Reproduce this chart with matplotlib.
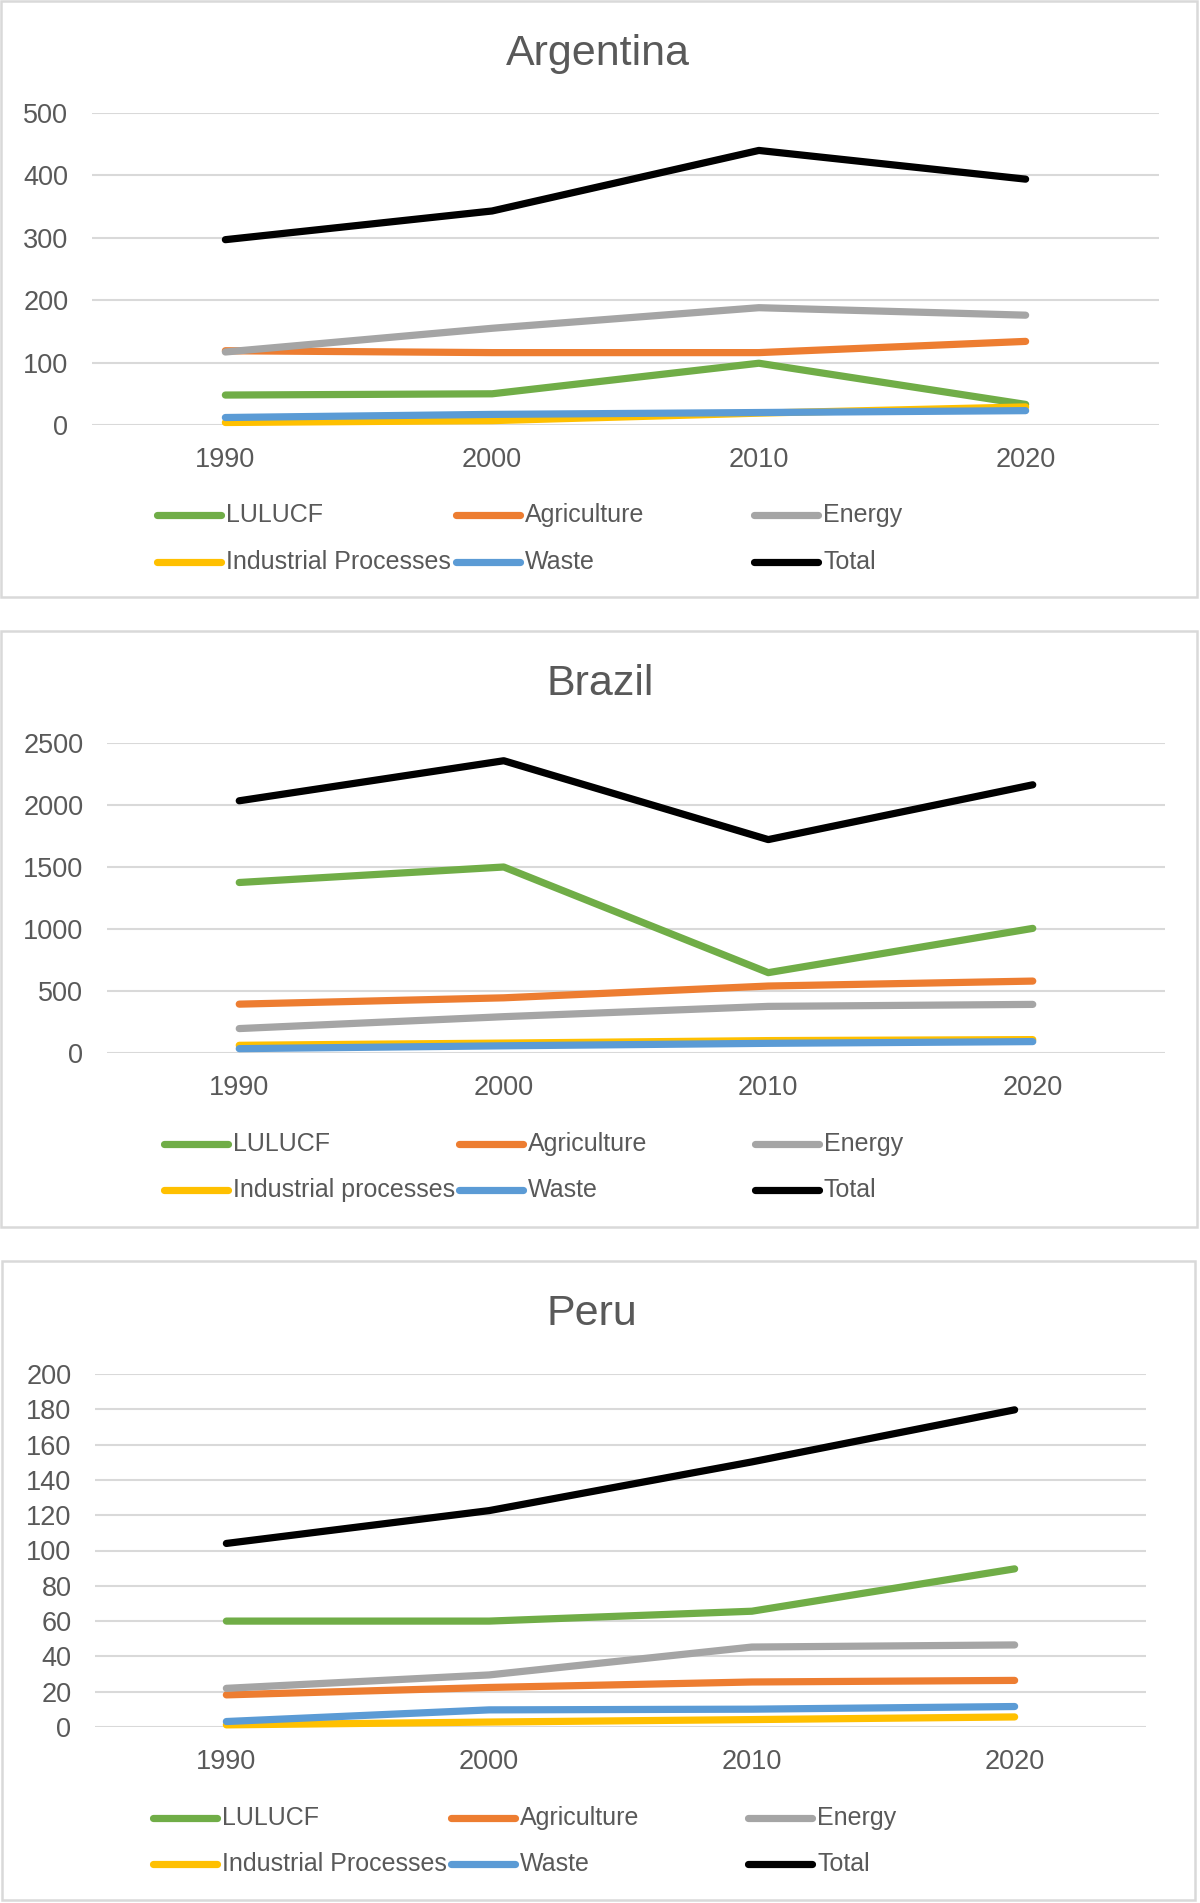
import matplotlib
matplotlib.use("Agg")
from matplotlib import pyplot as plt
from matplotlib.lines import Line2D
from matplotlib.patches import Rectangle

plt.rcParams['font.family'] = ['Liberation Sans', 'DejaVu Sans']

# Data
years = ["1990", "2000", "2010", "2020"]

arg_lulucf = [48, 50, 99, 33]
arg_agri = [119, 116, 116, 134]
arg_energy = [117, 155, 188, 176]
arg_ind = [4, 7, 19, 29]
arg_waste = [12, 17, 20, 23]
arg_total = [297, 343, 440, 394]

bra_lulucf = [1375, 1500, 648, 1005]
bra_agri = [394, 445, 540, 580]
bra_energy = [197, 293, 376, 392]
bra_ind = [62, 80, 100, 108]
bra_waste = [35, 58, 78, 92]
bra_total = [2034, 2357, 1721, 2163]

per_lulucf = [60, 60, 65.6, 89.6]
per_agri = [18.2, 22.4, 25.5, 26.4]
per_energy = [21.9, 29.5, 45.3, 46.5]
per_ind = [1.2, 2.8, 4.2, 5.7]
per_waste = [3.1, 9.7, 10.1, 11.6]
per_total = [104, 122.6, 150.2, 179.7]

colors = ['#70AD47', '#ED7D31', '#A5A5A5', '#FFC000', '#5B9BD5', '#000000']
text_col = '#595959'
grid_col = '#D9D9D9'

W, H = 1200, 1903
fig = plt.figure(figsize=(W / 100, H / 100), dpi=100)


def frac_rect(l, t, r, b):
    return [l / W, 1 - b / H, (r - l) / W, (b - t) / H]


def fx(x):
    return x / W


def fy(y):
    return 1 - y / H


panels = [
    dict(title="Argentina", title_xy=(598, 65), box=(1, 1, 1197, 597),
         axes=(92, 113, 1159, 425), ymax=500, ystep=100,
         labels=["LULUCF", "Agriculture", "Energy", "Industrial Processes", "Waste", "Total"],
         series=[arg_lulucf, arg_agri, arg_energy, arg_ind, arg_waste, arg_total],
         leg_x=(157, 456, 754), leg_y=(515, 562)),
    dict(title="Brazil", title_xy=(600, 695), box=(1, 631, 1197, 1227),
         axes=(107, 743, 1165, 1053), ymax=2500, ystep=500,
         labels=["LULUCF", "Agriculture", "Energy", "Industrial processes", "Waste", "Total"],
         series=[bra_lulucf, bra_agri, bra_energy, bra_ind, bra_waste, bra_total],
         leg_x=(164, 459, 755), leg_y=(1144, 1190)),
    dict(title="Peru", title_xy=(592, 1325), box=(2, 1261, 1195, 1900),
         axes=(95, 1374, 1146, 1727), ymax=200, ystep=20,
         labels=["LULUCF", "Agriculture", "Energy", "Industrial Processes", "Waste", "Total"],
         series=[per_lulucf, per_agri, per_energy, per_ind, per_waste, per_total],
         leg_x=(153, 451, 748), leg_y=(1818, 1864)),
]

for p in panels:
    l, t, r, b = p['box']
    fig.add_artist(Rectangle((fx(l), fy(b)), (r - l) / W, (b - t) / H,
                             transform=fig.transFigure, fill=False,
                             edgecolor=grid_col, linewidth=1.8))
    fig.text(fx(p['title_xy'][0]), fy(p['title_xy'][1]), p['title'],
             ha='center', va='baseline', fontsize=31, color=text_col)

    ax = fig.add_axes(frac_rect(*p['axes']))
    xs = range(len(years))
    for vals, c, lab in zip(p['series'], colors, p['labels']):
        ax.plot(xs, vals, color=c, lw=5.2, label=lab, clip_on=False,
                solid_capstyle='round', solid_joinstyle='round')
    ax.set_xlim(-0.5, len(years) - 0.5)
    ax.set_ylim(0, p['ymax'])
    ax.set_xticks(list(xs))
    ax.set_xticklabels(years)
    ax.set_yticks(range(0, p['ymax'] + 1, p['ystep']))
    ax.yaxis.grid(True, color=grid_col, lw=1.5)
    ax.set_axisbelow(True)
    for s in ax.spines.values():
        s.set_visible(False)
    ax.tick_params(axis='both', length=0, labelsize=19.5, colors=text_col)
    ax.tick_params(axis='y', pad=17)
    ax.tick_params(axis='x', pad=16)
    ax.patch.set_alpha(0)

    # legend laid out like the spreadsheet one: 3 columns, 2 rows
    for i, (lab, c) in enumerate(zip(p['labels'], colors)):
        x0 = p['leg_x'][i % 3]
        y0 = p['leg_y'][i // 3]
        fig.add_artist(Line2D([fx(x0), fx(x0 + 64)], [fy(y0), fy(y0)],
                              transform=fig.transFigure, color=c, lw=5.2,
                              solid_capstyle='round'))
        fig.text(fx(x0 + 69), fy(y0), lab, ha='left', va='center',
                 fontsize=18, color=text_col)

fig.savefig('out.png', dpi=100)
